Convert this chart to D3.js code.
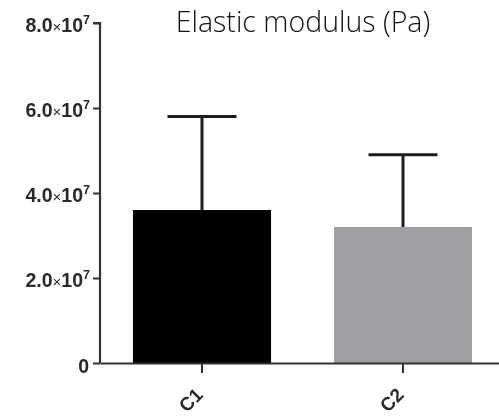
<!DOCTYPE html>
<html>
<head>
<meta charset="utf-8">
<script src="https://cdn.jsdelivr.net/npm/d3@7"></script>
<style>
  html, body { margin: 0; padding: 0; background: #fff; }
  svg { display: block; }
  .tick-label { font-family: "Liberation Sans", Arial, sans-serif; font-weight: bold; fill: #2a2a2a; }
</style>
</head>
<body>
<svg id="chart" width="499" height="418"></svg>
<script>
// Elastic modulus per group: mean and standard deviation (Pa)
const groups = ["C1", "C2"];
const means = [3.6e7, 3.2e7];
const errors = [2.2e7, 1.7e7];
const barColors = ["#000000", "#a09fa4"];
const yTicks = [0, 2e7, 4e7, 6e7, 8e7];
const title = "Elastic modulus (Pa)";

const svg = d3.select("#chart");

// soft edges on the plotted graphic
svg.append("defs").append("filter").attr("id", "soft")
  .append("feGaussianBlur").attr("stdDeviation", 0.5);

const plot = svg.append("g").attr("filter", "url(#soft)");

const y = d3.scaleLinear().domain([0, 8e7]).range([363, 23]);
const x = d3.scaleBand().domain(groups).range([100, 505])
  .paddingInner(0.313).paddingOuter(0.164);

const axisColor = "#333";

// bars
plot.selectAll("rect.bar").data(groups).join("rect")
  .attr("class", "bar")
  .attr("x", d => x(d))
  .attr("width", x.bandwidth())
  .attr("y", (d, i) => y(means[i]))
  .attr("height", (d, i) => y(0) - y(means[i]))
  .attr("fill", (d, i) => barColors[i]);

// upper error bars
const capHalf = x.bandwidth() * 0.25;
const eg = plot.append("g").attr("stroke", "#1e1e1e").attr("stroke-width", 3);
groups.forEach((g, i) => {
  const cx = x(g) + x.bandwidth() / 2;
  eg.append("line").attr("x1", cx).attr("x2", cx)
    .attr("y1", y(means[i])).attr("y2", y(means[i] + errors[i]));
  eg.append("line").attr("x1", cx - capHalf).attr("x2", cx + capHalf)
    .attr("y1", y(means[i] + errors[i])).attr("y2", y(means[i] + errors[i]));
});

// y axis
const yAxis = d3.axisLeft(y).tickValues(yTicks).tickSize(7).tickPadding(3).tickFormat("");
const yg = plot.append("g").attr("transform", "translate(100,0)").call(yAxis);
yg.select(".domain").attr("stroke", axisColor).attr("stroke-width", 2.2).attr("d", `M-7,${y(8e7)}H0V${y(0)}`);
yg.selectAll(".tick line").attr("stroke", axisColor).attr("stroke-width", 2);

yg.selectAll(".tick").append("text")
  .attr("class", "tick-label")
  .attr("text-anchor", "end")
  .attr("x", d => d === 0 ? -11 : -10)
  .attr("y", d => d === 0 ? 2 : 1)
  .attr("dy", "0.36em")
  .style("font-size", "19.5px")
  .each(function(d) {
    const t = d3.select(this);
    if (d === 0) { t.text("0"); return; }
    const exp = Math.floor(Math.log10(d));
    const mant = (d / Math.pow(10, exp)).toFixed(1);
    t.append("tspan").text(mant);
    t.append("tspan").text("×").style("font-size", "15px").style("font-weight", "normal");
    t.append("tspan").text("10");
    t.append("tspan").text(String(exp)).style("font-size", "12.5px").attr("dy", "-0.6em");
  });

// x axis
const xAxis = d3.axisBottom(x).tickSize(10).tickSizeOuter(0).tickFormat("");
const xg = plot.append("g").attr("transform", `translate(0,${y(0)})`).call(xAxis);
xg.select(".domain").attr("stroke", axisColor).attr("stroke-width", 2.2);
xg.selectAll(".tick line").attr("stroke", axisColor).attr("stroke-width", 2);
xg.selectAll(".tick").append("text")
  .attr("class", "tick-label")
  .attr("text-anchor", "end")
  .attr("transform", "translate(2,33) rotate(-45)")
  .style("font-size", "19px")
  .text(d => d);

// title
svg.append("text")
  .attr("x", 303).attr("y", 32)
  .attr("text-anchor", "middle")
  .style("font-family", "'Open Sans', sans-serif")
  .style("font-weight", 300)
  .style("font-size", "28.5px")
  .attr("fill", "#111")
  .text(title);
</script>
</body>
</html>
